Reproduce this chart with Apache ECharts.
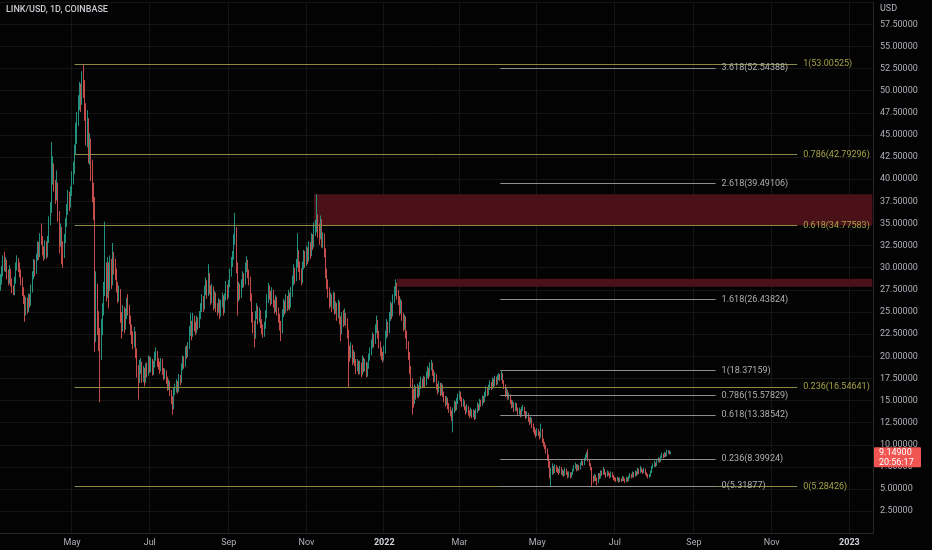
<!DOCTYPE html>
<html><head><meta charset="utf-8">
<script src="https://cdn.jsdelivr.net/npm/echarts/dist/echarts.min.js"></script>
<style>html,body{margin:0;padding:0;background:#030303;}#c{width:932px;height:550px;}</style>
</head><body><div id="c"></div>
<script>
// ---- data ----
const title = 'LINK/USD, 1D, COINBASE';
const startDate = [2021, 2, 6];      // 2021-03-06, first daily candle
const dayCount = 685;                // daily categories up to 2023-01-19
const firstOpen = 28.0;
const closes = [
28.5,29.5,30.8,30.2,30.5,29.2,28.6,29.6,28.4,27.6,
27.2,28.6,30.1,30.8,30.2,29.4,28.5,27.4,26.6,25.1,
26.1,25.4,26.6,26.0,27.6,29.1,30.4,29.6,31.1,32.4,
31.5,33.4,33.2,32.0,31.4,32.6,31.6,33.1,35.2,36.6,
40.5,41.2,39.4,38.1,39.2,36.0,33.2,34.1,32.4,31.6,
33.2,35.1,36.6,38.1,37.2,38.6,40.2,41.0,43.2,44.6,
46.8,48.6,50.1,49.0,51.4,50.8,48.0,44.9,46.4,43.1,
44.0,41.8,38.6,37.0,25.0,27.5,23.8,22.4,20.8,23.4,
25.2,27.2,28.6,27.4,29.6,28.0,30.2,28.4,31.2,30.1,
29.5,28.0,26.8,27.3,24.5,23.2,25.1,23.4,24.8,25.9,
25.3,24.2,23.1,22.2,21.6,22.5,20.4,18.5,17.6,18.7,
19.1,17.6,18.4,17.4,18.8,18.1,19.6,18.6,19.4,18.2,
19.0,20.0,20.3,19.3,19.0,18.6,19.4,18.4,17.8,18.1,
17.4,16.6,16.9,15.9,15.2,14.3,16.1,16.3,16.9,16.3,
17.6,17.2,18.8,19.6,19.1,20.6,20.2,21.1,22.8,23.6,
22.6,24.1,23.4,22.9,24.0,23.5,24.6,25.4,26.2,25.6,
27.4,28.2,27.1,29.0,27.6,26.4,27.6,25.8,26.9,25.6,
25.2,26.1,24.8,25.9,26.6,25.2,26.6,27.7,26.9,28.1,
29.4,30.6,31.2,33.0,34.2,30.2,26.9,27.6,27.0,28.1,
29.0,28.4,30.0,30.6,29.4,28.6,26.8,24.5,23.6,22.4,
24.6,25.3,24.2,24.9,23.8,23.2,22.6,23.4,24.6,26.4,
27.6,27.0,26.2,27.2,26.0,25.4,26.4,25.1,24.4,23.6,
22.9,24.8,25.9,25.2,26.4,25.6,26.9,25.8,27.0,28.4,
29.6,28.8,30.4,31.6,30.2,29.4,28.6,30.1,31.4,30.6,
31.8,31.0,32.4,31.6,33.2,32.6,34.1,34.6,35.2,34.4,
33.6,35.2,32.9,33.5,31.8,29.4,28.2,27.4,26.1,26.6,
25.6,26.9,25.2,25.6,24.6,25.9,24.1,22.8,24.4,23.9,
24.6,24.0,22.6,20.6,20.2,21.0,19.6,20.2,19.4,18.6,
19.2,18.4,19.0,18.1,19.6,18.6,19.2,18.0,18.9,19.8,
20.4,21.3,22.1,21.6,23.0,23.8,22.6,21.4,20.6,20.2,
19.8,20.6,22.4,23.6,22.8,24.4,25.6,24.8,26.4,27.2,
28.0,27.0,26.4,25.2,26.0,24.6,23.4,24.2,22.6,21.4,
20.2,18.6,17.2,15.8,14.9,16.2,15.6,16.4,15.8,16.6,
17.2,16.8,17.4,16.9,17.8,18.4,17.9,18.9,19.0,18.2,
17.4,17.8,16.6,16.1,16.8,15.9,16.6,15.8,15.2,14.8,
15.1,14.4,14.0,13.6,13.2,13.9,14.6,14.1,14.9,15.4,
15.8,15.2,14.6,14.9,14.2,13.8,14.3,13.6,13.4,13.9,
13.3,13.7,13.1,13.8,14.4,14.1,14.9,14.6,15.3,15.0,
15.6,16.2,15.8,16.4,16.9,16.5,17.2,16.8,17.4,17.0,
17.6,17.8,17.5,18.0,17.1,16.6,15.8,16.1,15.4,15.6,
14.9,14.4,14.7,14.0,14.5,14.1,13.6,13.9,13.4,14.0,
14.2,13.6,13.2,13.5,12.9,12.6,12.9,12.2,11.8,11.4,
11.2,11.6,11.3,11.0,11.7,10.5,10.1,9.8,9.4,8.6,
7.8,6.6,6.9,7.3,7.0,7.5,7.2,7.1,6.9,7.4,
6.8,6.9,6.6,7.1,6.8,6.5,6.8,6.4,6.7,7.1,
7.4,7.6,7.2,7.6,7.3,7.8,8.0,7.8,8.3,8.6,
8.9,8.3,7.8,7.4,6.2,6.0,6.4,6.2,5.9,6.6,
6.3,6.9,6.7,7.2,6.8,6.5,6.9,6.7,6.4,6.8,
6.5,6.3,6.1,6.0,6.2,5.9,6.1,6.0,6.3,6.1,
5.9,6.2,6.0,6.3,6.6,6.4,6.8,6.5,6.9,6.7,
7.1,6.9,7.3,7.1,6.9,7.2,6.8,6.6,6.4,6.5,
6.9,7.4,7.6,7.9,7.7,8.1,8.4,8.2,8.6,8.9,
8.7,9.0,8.8,9.2,9.3,9.0,9.149];
const highs = [
29.3,30.2,31.4,31.8,31.2,30.9,29.8,30.3,29.9,28.8,
28.0,29.0,30.6,31.4,31.1,30.6,29.8,28.9,27.8,26.9,
26.7,26.6,27.1,27.0,28.1,29.6,31.0,30.9,31.6,33.0,
32.9,33.9,35.0,33.6,32.4,33.1,33.0,33.6,35.8,37.4,
44.2,42.6,41.8,39.9,41.0,39.6,36.4,35.0,34.6,33.0,
33.8,35.6,37.2,38.8,38.6,39.2,40.9,42.0,43.9,46.4,
47.6,49.5,51.0,50.8,52.2,52.9,51.2,48.6,47.8,46.9,
45.2,44.6,42.2,39.6,38.0,29.6,28.2,25.1,23.2,24.2,
26.0,28.4,35.2,30.6,31.2,30.6,31.4,31.0,32.8,31.8,
31.0,29.9,28.4,28.0,27.6,25.0,25.8,25.6,25.4,26.6,
27.0,25.8,24.6,23.6,22.8,23.3,22.8,20.9,19.0,19.6,
19.8,19.4,18.9,18.7,19.2,19.3,20.1,20.0,19.9,19.7,
19.5,20.5,21.0,20.6,19.8,19.4,19.8,19.7,18.7,18.6,
18.4,17.7,17.4,17.2,16.2,15.5,16.4,16.9,17.4,17.2,
18.0,17.9,19.2,20.1,20.0,21.1,21.2,21.6,23.4,24.9,
24.0,24.9,24.6,23.9,24.6,24.4,25.1,26.0,27.0,26.8,
28.0,28.9,28.6,30.4,29.4,28.0,28.2,27.9,27.4,27.2,
26.0,26.6,26.4,26.4,27.2,26.9,27.1,28.5,28.1,28.6,
29.9,31.2,31.9,33.8,36.2,34.6,30.6,28.4,28.2,28.7,
29.6,29.4,30.6,31.3,30.9,29.8,29.0,27.1,25.0,24.0,
25.1,26.0,25.7,25.5,25.2,24.2,23.6,23.9,25.2,27.0,
28.3,28.0,27.4,27.8,27.5,26.4,26.9,26.7,25.5,24.8,
24.0,25.3,26.5,26.3,27.0,26.8,27.5,27.2,27.8,29.1,
30.4,30.0,31.0,33.9,32.0,30.7,29.9,30.7,32.0,31.9,
32.5,32.3,33.0,32.9,33.9,33.8,35.1,35.4,38.3,36.0,
35.0,35.9,35.5,34.0,33.9,32.2,29.9,28.7,27.8,27.2,
27.0,27.3,27.2,26.2,26.0,26.4,26.2,24.5,25.0,25.2,
25.4,24.9,24.3,23.0,21.2,21.6,21.3,20.7,20.5,19.7,
19.7,19.5,19.5,19.3,20.1,19.9,19.7,19.4,19.3,20.3,
21.0,21.9,22.7,22.5,23.6,24.6,24.1,22.9,21.7,21.0,
20.5,21.2,22.9,24.2,23.9,25.0,26.2,26.0,27.0,27.9,
28.7,28.3,27.5,26.8,26.5,26.3,24.9,24.7,24.5,22.9,
21.7,20.5,18.9,17.5,16.3,16.8,16.6,16.9,16.7,17.1,
17.7,17.5,17.8,17.7,18.3,18.9,18.7,19.3,19.6,19.3,
18.5,18.2,18.0,16.9,17.2,17.0,17.0,16.8,16.0,15.5,
15.5,15.3,14.7,14.3,13.9,14.2,15.0,14.9,15.3,15.8,
16.1,16.0,15.4,15.2,15.0,14.4,14.6,14.4,13.9,14.2,
14.0,14.0,13.9,14.1,14.8,14.6,15.2,15.1,15.6,15.5,
16.0,16.6,16.5,16.8,17.3,17.1,17.6,17.5,17.8,17.7,
17.9,18.1,18.0,18.37,18.1,17.3,16.8,16.4,16.2,15.9,
15.7,15.1,15.0,14.8,14.8,14.7,14.2,14.2,14.0,14.3,
14.5,14.3,13.8,13.8,13.6,13.1,13.2,13.0,12.4,12.0,
11.7,11.9,11.8,11.5,12.4,11.8,10.7,10.3,10.0,9.6,
8.9,8.2,7.4,7.9,7.6,7.8,7.7,7.5,7.3,7.6,
7.5,7.2,7.1,7.4,7.3,7.0,7.0,6.9,6.9,7.3,
7.7,8.0,7.8,7.8,7.7,8.0,8.3,8.2,8.5,8.9,
9.2,9.5,8.4,7.9,7.5,6.5,6.7,6.6,6.3,6.8,
6.8,7.1,7.1,7.5,7.3,6.9,7.1,7.0,6.8,7.0,
6.9,6.6,6.4,6.3,6.4,6.3,6.3,6.2,6.5,6.4,
6.2,6.4,6.3,6.5,6.8,6.7,7.0,6.9,7.1,7.0,
7.4,7.3,7.6,7.4,7.2,7.4,7.3,6.9,6.7,6.7,
7.1,7.6,7.9,8.2,8.0,8.3,8.6,8.5,8.8,9.1,
9.0,9.2,9.1,9.45,9.4,9.35,9.25];
const lows = [
27.4,28.1,29.0,29.6,29.5,28.7,28.0,28.2,27.9,27.1,
26.9,26.9,28.2,29.7,29.5,28.9,28.0,26.8,25.9,23.9,
24.6,24.8,25.0,25.5,25.7,27.2,28.7,29.0,29.3,30.8,
30.9,31.2,32.6,31.4,30.8,31.0,31.0,31.2,32.8,34.8,
36.2,39.4,38.6,37.2,37.6,35.2,31.6,32.4,30.4,30.0,
31.1,32.8,34.6,36.0,36.4,36.8,38.1,39.4,40.6,42.8,
44.0,46.0,47.8,47.6,48.4,49.2,46.6,43.8,43.6,41.8,
41.6,39.8,37.4,35.4,20.5,21.6,22.4,20.6,14.8,19.6,
22.4,24.6,26.8,26.2,26.6,25.4,27.4,27.6,28.0,29.2,
28.6,27.2,26.0,26.2,23.8,22.0,22.8,22.6,23.0,24.2,
24.6,23.6,22.4,21.4,20.8,21.0,19.8,17.6,15.1,17.0,
18.0,17.0,17.1,16.6,17.0,17.6,17.8,18.1,18.2,17.8,
17.9,18.7,19.5,18.8,18.5,18.0,18.3,17.9,17.3,17.4,
16.9,16.1,16.2,15.5,14.6,13.4,14.0,15.6,15.9,15.8,
16.0,16.7,17.0,18.4,18.6,18.8,19.7,19.9,20.8,22.3,
21.8,22.2,22.8,22.4,22.6,23.0,23.2,24.2,25.0,25.0,
25.3,26.9,26.5,26.8,27.0,25.8,26.0,25.2,25.4,25.0,
24.6,24.9,24.2,24.5,25.5,24.6,24.9,26.3,26.4,26.6,
27.8,29.0,30.1,30.9,32.6,29.4,24.6,26.2,26.4,26.6,
27.7,27.8,28.1,29.5,28.8,28.0,26.2,23.8,22.6,21.0,
22.0,24.2,23.6,23.8,23.2,22.5,22.1,22.2,23.1,24.3,
26.0,26.4,25.7,25.9,25.5,24.8,25.0,24.6,23.8,22.9,
21.7,22.6,24.4,24.7,24.9,25.1,25.3,25.2,25.5,26.7,
28.0,28.2,28.5,30.0,29.5,28.6,28.0,28.3,29.8,30.0,
30.2,30.4,30.7,31.0,31.3,32.0,32.3,33.6,34.0,33.4,
32.6,33.2,32.3,32.2,31.2,28.8,27.6,26.6,25.4,25.6,
25.0,25.3,24.7,24.8,24.0,24.3,23.6,21.7,22.5,23.3,
23.5,23.4,22.0,16.4,19.4,19.8,19.0,19.2,18.9,18.0,
18.3,17.9,18.0,17.6,17.9,18.2,18.3,17.6,17.7,18.6,
19.5,20.1,20.9,21.0,21.4,22.6,22.0,20.9,20.0,19.6,
19.3,19.5,20.3,22.0,22.2,22.6,24.0,24.2,24.5,26.0,
26.8,26.4,25.8,24.6,24.8,24.0,22.8,23.0,22.0,20.8,
19.6,18.0,16.4,13.4,14.2,14.6,15.1,15.3,15.3,15.5,
16.3,16.4,16.5,16.5,16.7,17.5,17.4,17.7,18.4,17.8,
17.0,17.1,16.2,15.7,15.9,15.5,15.6,15.4,14.8,14.3,
14.5,14.0,13.6,13.2,12.7,11.4,13.6,13.8,13.9,14.6,
15.1,14.9,14.3,14.3,13.9,13.4,13.6,13.3,13.0,13.2,
13.0,13.1,12.8,12.9,13.6,13.8,13.9,14.3,14.4,14.7,
14.8,15.4,15.5,15.6,16.2,16.2,16.3,16.5,16.6,16.7,
16.8,17.3,17.2,17.3,16.9,16.3,15.4,15.6,15.1,15.1,
14.6,14.1,14.2,13.7,13.8,13.8,13.3,13.4,13.1,13.2,
13.8,13.4,12.9,13.0,12.6,12.2,12.4,11.9,11.4,11.1,
10.8,11.0,11.0,10.6,10.8,10.2,9.8,9.5,9.0,8.2,
7.4,6.2,5.27,6.6,6.7,6.8,6.9,6.8,6.6,6.8,
6.6,6.5,6.4,6.5,6.6,6.2,6.3,6.2,6.3,6.6,
7.0,7.3,7.0,7.1,7.1,7.2,7.7,7.6,7.7,8.2,
8.5,8.1,7.6,7.1,5.3,5.7,5.9,5.9,5.4,5.7,
6.1,6.2,6.5,6.6,6.6,6.3,6.4,6.5,6.2,6.3,
6.3,6.0,5.9,5.8,5.9,5.7,5.8,5.8,5.9,5.9,
5.7,5.8,5.8,5.9,6.2,6.2,6.3,6.3,6.4,6.5,
6.6,6.7,6.8,6.9,6.7,6.8,6.6,6.4,6.2,6.3,
6.4,6.8,7.3,7.5,7.5,7.6,8.0,8.0,8.1,8.5,
8.5,8.6,8.6,8.7,9.0,8.9,8.95];
const tickDates  = ['2021-05-01','2021-07-01','2021-09-01','2021-11-01','2022-01-01','2022-03-01','2022-05-01','2022-07-01','2022-09-01','2022-11-01','2023-01-01'];
const tickLabels = ['May','Jul','Sep','Nov','2022','Mar','May','Jul','Sep','Nov','2023'];
// Fibonacci retracement (May-2021 high to May-2022 low)
const fibA_levels = [1, 0.786, 0.618, 0.236, 0];
const fibA_values = [53.00525, 42.79296, 34.77583, 16.54641, 5.28426];
const fibA_range  = ['2021-05-03', '2022-11-21'];
// Fibonacci extension (Apr-2022 high to May-2022 low)
const fibB_levels = [3.618, 2.618, 1.618, 1, 0.786, 0.618, 0.236, 0];
const fibB_values = [52.54388, 39.49106, 26.43824, 18.37159, 15.57829, 13.38542, 8.39924, 5.31877];
const fibB_range  = ['2022-04-02', '2022-09-18'];
// supply zones: [start date, low, high]
const zoneStarts = ['2021-11-07', '2022-01-11'];
const zoneLows   = [34.77583, 27.86];
const zoneHighs  = [38.30, 28.76];
const lastPrice = 9.149;
const countdown = '20:56:17';

// ---- build ----
const dates = [];
for (let i = 0; i < dayCount; i++) {
  dates.push(new Date(Date.UTC(startDate[0], startDate[1], startDate[2] + i)).toISOString().slice(0, 10));
}
const candles = closes.map((c, i) => [i === 0 ? firstOpen : closes[i - 1], c, lows[i], highs[i]]);

const OLIVE = '#8c8a42', OLIVETXT = '#a6a348', GREY = '#8e8e8e', GREYTXT = '#b0b0b0';
const FONT = 'Roboto';
const fibLines = [];
fibA_levels.forEach((lv, i) => {
  fibLines.push([
    {coord: [fibA_range[0], fibA_values[i]], lineStyle: {color: OLIVE, width: 1, type: 'solid'},
     label: {formatter: lv + '(' + fibA_values[i].toFixed(5) + ')', color: OLIVETXT}},
    {coord: [fibA_range[1], fibA_values[i]]}
  ]);
});
fibB_levels.forEach((lv, i) => {
  fibLines.push([
    {coord: [fibB_range[0], fibB_values[i]], lineStyle: {color: GREY, width: 1, type: 'solid'},
     label: {formatter: lv + '(' + fibB_values[i].toFixed(5) + ')', color: GREYTXT}},
    {coord: [fibB_range[1], fibB_values[i]]}
  ]);
});
const zones = zoneStarts.map((d, i) => [
  {coord: [d, zoneHighs[i]]},
  {coord: [dates[dates.length - 1], zoneLows[i]]}
]);

const chart = echarts.init(document.getElementById('c'), null, {renderer: 'canvas'});
const isTick = (idx, v) => tickDates.indexOf(v) >= 0;
const baseGraphic = [
  {type: 'text', left: 6, top: 5, style: {text: title, fill: '#c9cbd1', fontSize: 9, fontFamily: FONT, fontWeight: 500}},
  {type: 'text', left: 880, top: 4, style: {text: 'USD', fill: '#b2b5be', fontSize: 9, fontFamily: FONT}}
];
chart.setOption({
  animation: false,
  backgroundColor: '#030303',
  grid: {left: 0, right: 59, top: 2.2, bottom: 16.7, containLabel: false},
  xAxis: {
    type: 'category', data: dates, boundaryGap: true,
    axisLine: {show: true, lineStyle: {color: '#262626'}},
    axisTick: {show: false},
    axisLabel: {
      interval: isTick, color: '#aeb1b9', fontSize: 9, fontFamily: FONT, margin: 5,
      formatter: v => {
        const k = tickDates.indexOf(v);
        const t = tickLabels[k];
        return /^\d{4}$/.test(t) ? '{b|' + t + '}' : t;
      },
      rich: {b: {fontWeight: 'bold', color: '#d1d4dc', fontSize: 9, fontFamily: FONT}}
    },
    splitLine: {show: true, interval: isTick, lineStyle: {color: '#151515', width: 1}}
  },
  yAxis: {
    type: 'value', position: 'right', min: 0, max: 60, interval: 2.5, scale: false,
    axisLine: {show: true, lineStyle: {color: '#262626'}},
    axisTick: {show: false},
    axisLabel: {color: '#aeb1b9', fontSize: 9, fontFamily: FONT, margin: 7,
      showMinLabel: false, showMaxLabel: false, formatter: v => v.toFixed(5)},
    splitLine: {show: true, lineStyle: {color: '#151515', width: 1}}
  },
  series: [{
    type: 'candlestick',
    data: candles,
    barWidth: 0.6,
    itemStyle: {color: '#24917f', color0: '#c44d4c', borderColor: '#24917f', borderColor0: '#c44d4c', borderWidth: 1},
    markArea: {
      silent: true,
      itemStyle: {color: '#4a1218', opacity: 1},
      data: zones
    },
    markLine: {
      silent: true, symbol: ['none', 'none'], animation: false,
      label: {show: true, position: 'end', distance: 6, fontSize: 9, fontFamily: FONT},
      emphasis: {disabled: true},
      data: fibLines
    }
  }],
  graphic: baseGraphic
});

// last-price tag on the price scale, positioned by the y scale
const py = chart.convertToPixel({yAxisIndex: 0}, lastPrice);
chart.setOption({
  graphic: baseGraphic.concat([
    {type: 'rect', shape: {x: 874, y: py - 5, width: 47, height: 20, r: 1}, style: {fill: '#f05552'}, z: 100},
    {type: 'text', x: 879, y: py + 0.5, style: {text: lastPrice.toFixed(5), fill: '#ffffff', fontSize: 9, fontFamily: FONT, textVerticalAlign: 'middle'}, z: 101},
    {type: 'text', x: 879, y: py + 10, style: {text: countdown, fill: '#ffffff', fontSize: 9, fontFamily: FONT, textVerticalAlign: 'middle'}, z: 101}
  ])
}, {replaceMerge: ['graphic']});
</script>
</body></html>
